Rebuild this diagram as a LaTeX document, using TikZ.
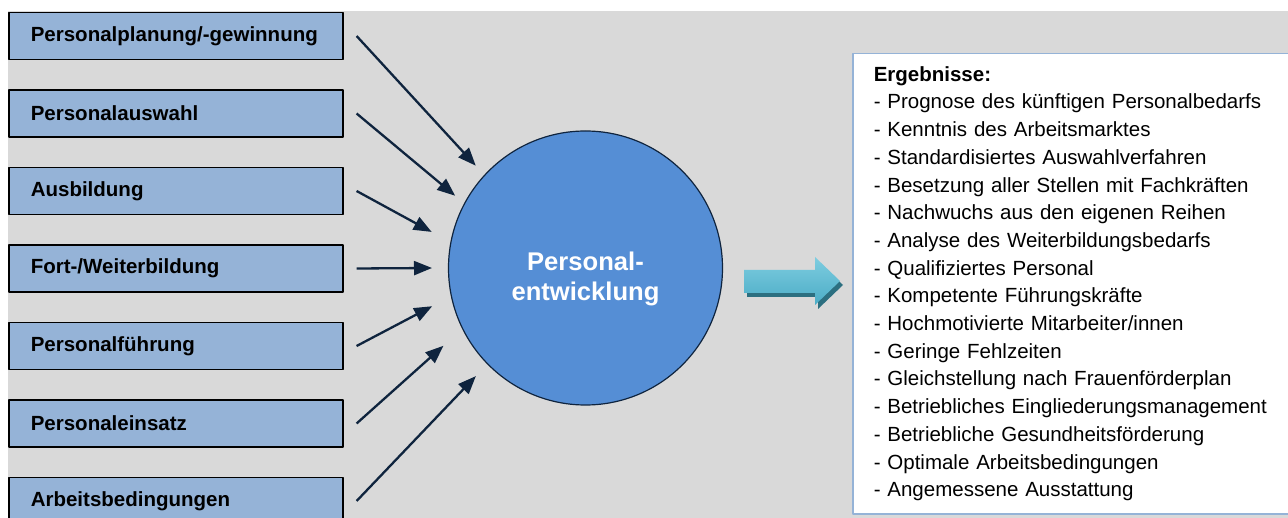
\documentclass[tikz,border=0pt]{standalone}
\usepackage{fontspec}
\setmainfont{Liberation Sans}
\usetikzlibrary{arrows.meta}
\definecolor{bggray}{HTML}{D9D9D9}
\definecolor{boxblue}{HTML}{95B3D7}
\definecolor{circblue}{HTML}{558ED5}
\definecolor{navy}{HTML}{0F243E}
\definecolor{tealtop}{HTML}{7ECDE0}
\definecolor{tealbot}{HTML}{4BACC6}
\definecolor{tealdark}{HTML}{2C6F80}
\begin{document}
\begin{tikzpicture}[x=1pt, y=-1pt,
  field/.style={draw=black, line width=1.6pt, fill=boxblue, anchor=west,
    minimum height=47pt, text width=290pt, inner xsep=22pt, align=left,
    font=\fontsize{20.5}{24}\selectfont\bfseries},
  feed/.style={navy, line width=2.3pt, -{Triangle[length=18pt,width=14pt]}},
  line join=round]
  \useasboundingbox (0,0) rectangle (1288,518);
  \fill [bggray] (8,11) rectangle (1288,518);

  \node (pe) [circle, draw=navy, line width=1.2pt, fill=circblue, minimum size=274pt,
    label={[white, align=center, yshift=-11pt,
      font=\fontsize{25.6}{30}\selectfont\bfseries]center:Personal-\\entwicklung}]
    at (585.5,268) {};

  \foreach \i/\t/\a/\r in {1/{Personalplanung/-gewinnung}/223/150,
    2/Personalauswahl/209/149, 3/Ausbildung/193.2/158, 4/{Fort-/Weiterbildung}/180/153.5,
    5/Personalführung/166/158, 6/Personaleinsatz/151.3/162, 7/Arbeitsbedingungen/135.4/154}{
    \node (b\i) [field] at (8,{36+77.5*(\i-1)}) {\t};
    \coordinate (e\i) at ([shift={(\a:\r)}]pe.center);
    \draw [feed] ([xshift=13pt]b\i.east) -- (e\i);
  }

  % block arrow with shadow
  \fill [tealdark] (747,274) -- (818,274) -- (818,261) -- (843,285) -- (818,309)
    -- (818,297) -- (747,297) -- cycle;
  \shade [top color=tealtop, bottom color=tealbot] (744,270) -- (815,270) -- (815,257)
    -- (840,281) -- (815,305) -- (815,293) -- (744,293) -- cycle;

  \node (res) [draw=boxblue, line width=1.5pt, fill=white, anchor=north west,
    minimum height=460pt, text width=420pt, inner xsep=21pt, align=left,
    font=\fontsize{20.5}{27.7}\selectfont] at (852,53)
    {\textbf{Ergebnisse:}\\
     - Prognose des künftigen Personalbedarfs\\
     - Kenntnis des Arbeitsmarktes\\
     - Standardisiertes Auswahlverfahren\\
     - Besetzung aller Stellen mit Fachkräften\\
     - Nachwuchs aus den eigenen Reihen\\
     - Analyse des Weiterbildungsbedarfs\\
     - Qualifiziertes Personal\\
     - Kompetente Führungskräfte\\
     - Hochmotivierte Mitarbeiter/innen\\
     - Geringe Fehlzeiten\\
     - Gleichstellung nach Frauenförderplan\\
     - Betriebliches Eingliederungsmanagement\\
     - Betriebliche Gesundheitsförderung\\
     - Optimale Arbeitsbedingungen\\
     - Angemessene Ausstattung};
\end{tikzpicture}
\end{document}
